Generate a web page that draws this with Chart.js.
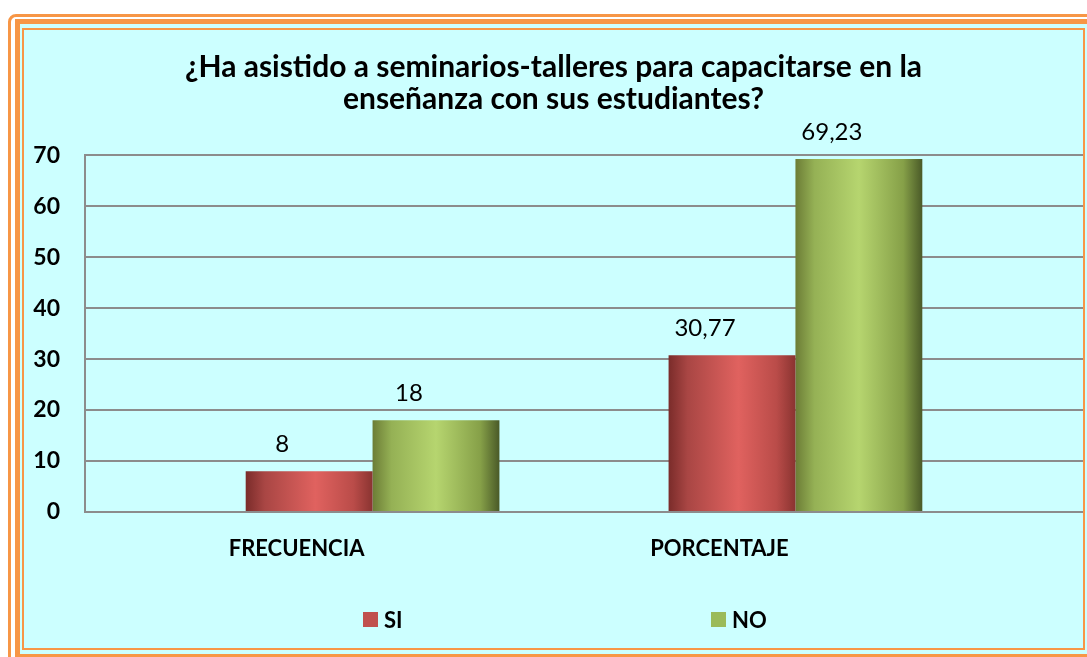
<!DOCTYPE html>
<html lang="es">
<head>
<meta charset="utf-8">
<title>Seminarios-talleres</title>
<script src="https://cdn.jsdelivr.net/npm/chart.js@4.4.0/dist/chart.umd.min.js"></script>
<style>
    html, body { margin: 0; padding: 0; background: #fff; width: 1087px; height: 657px; overflow: hidden; font-family: Lato, sans-serif; }
    .frame { position: absolute; box-sizing: border-box; }
    #f1 { left: 8px; top: 14px; width: 1110px; height: 680px; border: 3px solid #F79646; border-radius: 8px; background: #fff; }
    #f2 { left: 15px; top: 19px; width: 1100px; height: 640px; border: 5px solid #F79646; background: #CCFFFF; }
    #f3 { left: 22px; top: 28px; width: 1063px; height: 622px; border: 2px solid #F79646; background: #CCFFFF; }
    #chartBox { position: absolute; left: 24px; top: 30px; width: 1059px; height: 618px; }
    .legend-item { position: absolute; top: 607px; height: 24px; display: flex; align-items: center; font: bold 22px Lato, sans-serif; color: #000; }
    .legend-item span.box { display: inline-block; width: 15px; height: 15px; margin-right: 6px; }
</style>
</head>
<body>
<div class="frame" id="f1"></div>
<div class="frame" id="f2"></div>
<div class="frame" id="f3"></div>
<div id="chartBox"><canvas id="chart" width="1059" height="618"></canvas></div>
<div id="legend"></div>

<script>
// ========================================
// Data
// ========================================
const titleLines = ['¿Ha asistido a seminarios-talleres para capacitarse en la', 'enseñanza con sus estudiantes?'];
const categories = ['FRECUENCIA', 'PORCENTAJE'];
const seriesNames = ['SI', 'NO'];
const siValues = [8, 30.77];
const noValues = [18, 69.23];
const yTicks = [0, 10, 20, 30, 40, 50, 60, 70];

// ========================================
// Style helpers
// ========================================
const CAT_PCT = 0.6;
const X_MIN = -0.68;
const X_MAX = 1.68;
const FONT = 'Lato, sans-serif';
const legendColors = ['#C0504D', '#9BBB59'];
const legendLeft = [363, 711];

const siStops = [[0, '#7a2c2a'], [0.15, '#a94644'], [0.55, '#e0625f'], [0.85, '#ba4c49'], [1, '#8a3431']];
const noStops = [[0, '#6c7d36'], [0.15, '#95b155'], [0.5, '#b6d56f'], [0.85, '#86a048'], [1, '#4a5a28']];

function barGradient(stops) {
    return function(context) {
        const chart = context.chart;
        const x = chart.scales.x;
        if (!chart.chartArea || !x || context.dataIndex === undefined) return stops[2][1];
        const unit = x.getPixelForValue(1) - x.getPixelForValue(0);
        const w = unit * CAT_PCT / 2;
        const left = x.getPixelForValue(context.dataIndex) - w + context.datasetIndex * w;
        const g = chart.ctx.createLinearGradient(left, 0, left + w, 0);
        stops.forEach(s => g.addColorStop(s[0], s[1]));
        return g;
    };
}

function formatValue(v) {
    return String(v).replace('.', ',');
}

// value labels above the bars
const valueLabels = {
    id: 'valueLabels',
    afterDatasetsDraw: function(chart) {
        const ctx = chart.ctx;
        ctx.save();
        ctx.font = '24px ' + FONT;
        ctx.fillStyle = '#000';
        ctx.textAlign = 'center';
        ctx.textBaseline = 'alphabetic';
        chart.data.datasets.forEach((ds, i) => {
            chart.getDatasetMeta(i).data.forEach((bar, j) => {
                ctx.fillText(formatValue(ds.data[j].y), bar.x - 27, bar.y - 19);
            });
        });
        ctx.restore();
    }
};

const toPoints = values => values.map((v, i) => ({ x: i, y: v }));

new Chart(document.getElementById('chart').getContext('2d'), {
    type: 'bar',
    data: {
        datasets: [
            { label: seriesNames[0], data: toPoints(siValues), backgroundColor: barGradient(siStops) },
            { label: seriesNames[1], data: toPoints(noValues), backgroundColor: barGradient(noStops) }
        ]
    },
    options: {
        responsive: false,
        animation: false,
        categoryPercentage: CAT_PCT,
        barPercentage: 1,
        layout: { padding: 0 },
        plugins: {
            legend: { display: false },
            tooltip: { enabled: false },
            title: {
                display: true,
                text: titleLines,
                color: '#000',
                font: { family: FONT, size: 30, weight: 'bold', lineHeight: 1.07 },
                padding: { top: 21, bottom: 40 }
            }
        },
        scales: {
            x: {
                type: 'linear',
                offset: false,
                bounds: 'data',
                grace: 0,
                min: X_MIN,
                max: X_MAX,
                afterDataLimits: function(scale) {
                    scale.min = X_MIN;
                    scale.max = X_MAX;
                },
                afterBuildTicks: function(scale) {
                    scale.ticks = categories.map((c, i) => ({ value: i }));
                    scale.min = X_MIN;
                    scale.max = X_MAX;
                },
                afterFit: function(scale) { scale.height = 136; },
                ticks: {
                    callback: value => categories[value],
                    labelOffset: -76,
                    padding: 24,
                    autoSkip: false,
                    maxRotation: 0,
                    color: '#000',
                    font: { family: FONT, size: 22, weight: 'bold' }
                },
                grid: { display: false, drawTicks: false },
                border: { display: false }
            },
            y: {
                min: 0,
                max: 70,
                afterBuildTicks: function(scale) {
                    scale.ticks = yTicks.map(v => ({ value: v }));
                },
                afterFit: function(scale) { scale.width = 61; },
                ticks: {
                    padding: 25,
                    color: '#000',
                    font: { family: FONT, size: 23, weight: 'bold' }
                },
                grid: { color: '#8c8c8c', lineWidth: 2, drawTicks: false },
                border: { display: true, color: '#8c8c8c', width: 2 }
            }
        }
    },
    plugins: [valueLabels]
});

// legend (html)
const legendBox = document.getElementById('legend');
seriesNames.forEach((name, i) => {
    const item = document.createElement('div');
    item.className = 'legend-item';
    item.style.left = legendLeft[i] + 'px';
    item.innerHTML = '<span class="box" style="background:' + legendColors[i] + '"></span>' + name;
    legendBox.appendChild(item);
});
</script>
</body>
</html>
